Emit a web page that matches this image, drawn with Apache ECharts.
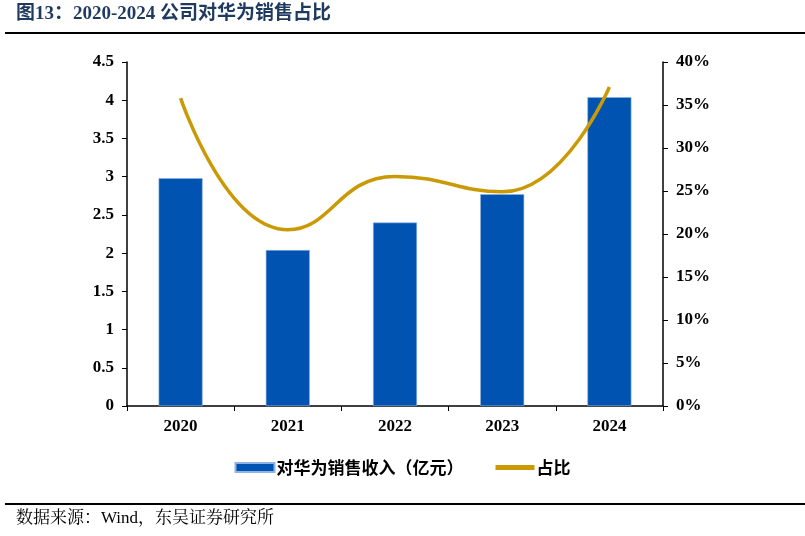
<!DOCTYPE html>
<html>
<head>
<meta charset="utf-8">
<script src="https://cdn.jsdelivr.net/npm/echarts@6/dist/echarts.min.js"></script>
<style>
  html, body { margin: 0; padding: 0; background: #fff; }
  #chart { width: 805px; height: 536px; }
</style>
</head>
<body>
<div id="chart"></div>
<script>
// 公司对华为销售占比
const years = ['2020', '2021', '2022', '2023', '2024'];
const salesToHuawei = [2.98, 2.04, 2.40, 2.77, 4.04];     // 亿元
const shareOfRevenue = [0.358, 0.205, 0.267, 0.249, 0.371]; // 占比

const serifFont = '"Liberation Serif", "Times New Roman", serif';
const cjkFont = '"Noto Sans CJK SC", sans-serif';

const chart = echarts.init(document.getElementById('chart'));

const option = {
    animation: false,
    backgroundColor: '#fff',
    graphic: [
        {
            type: 'text', left: 16, top: 5,
            style: {
                text: '图13：2020-2024 公司对华为销售占比',
                font: 'bold 19px "Liberation Serif", "Noto Sans CJK SC", serif',
                fill: '#1F3A5F'
            }
        },
        { type: 'line', shape: { x1: 5, y1: 33, x2: 805, y2: 33 }, style: { stroke: '#000', lineWidth: 2 } },
        { type: 'line', shape: { x1: 5, y1: 504, x2: 805, y2: 504 }, style: { stroke: '#000', lineWidth: 2 } },
        {
            type: 'text', left: 16, top: 510,
            style: {
                text: '数据来源：Wind，东吴证券研究所',
                font: '17px "Liberation Serif", "Noto Serif CJK SC", "Noto Sans CJK SC", serif',
                fill: '#000'
            }
        }
    ],
    legend: {
        top: 454,
        left: 'center',
        itemGap: 32,
        textStyle: { fontFamily: cjkFont, fontWeight: 'bold', fontSize: 17, color: '#000', padding: [0, 0, 0, -3] },
        data: [
            { name: '对华为销售收入（亿元）', icon: 'rect', itemStyle: { color: '#0153B1' } },
            { name: '占比', icon: 'path://M0,0 L40,0 L40,5 L0,5 Z' }
        ],
        itemWidth: 39,
        itemHeight: 9
    },
    grid: { left: 127, right: 142, top: 62, bottom: 130 },
    xAxis: {
        type: 'category',
        data: years,
        axisLine: { lineStyle: { color: '#000', width: 1.5 } },
        axisTick: { show: true, lineStyle: { color: '#000' }, length: 5 },
        axisLabel: { color: '#000', fontFamily: serifFont, fontWeight: 'bold', fontSize: 17, margin: 12 }
    },
    yAxis: [
        {
            type: 'value', min: 0, max: 4.5, interval: 0.5,
            splitLine: { show: false },
            axisLine: { show: true, lineStyle: { color: '#000', width: 1.5 } },
            axisTick: { show: true, lineStyle: { color: '#000' }, length: 5 },
            axisLabel: { color: '#000', fontFamily: serifFont, fontWeight: 'bold', fontSize: 17, margin: 13 }
        },
        {
            type: 'value', min: 0, max: 0.4, interval: 0.05,
            splitLine: { show: false },
            axisLine: { show: true, lineStyle: { color: '#000', width: 1.5 } },
            axisTick: { show: true, lineStyle: { color: '#000' }, length: 5 },
            axisLabel: {
                color: '#000', fontFamily: serifFont, fontWeight: 'bold', fontSize: 17, margin: 13,
                formatter: v => Math.round(v * 100) + '%'
            }
        }
    ],
    series: [
        {
            name: '对华为销售收入（亿元）',
            type: 'bar',
            data: salesToHuawei,
            barWidth: 44,
            itemStyle: { color: '#0153B1', borderColor: '#8FB4E3', borderWidth: 0.6 }
        },
        {
            name: '占比',
            type: 'line',
            yAxisIndex: 1,
            data: shareOfRevenue,
            smooth: 0.5,
            symbol: 'none',
            lineStyle: { color: '#C99A06', width: 3.5 },
            itemStyle: { color: '#C99A06' }
        }
    ]
};

chart.setOption(option);
</script>
</body>
</html>
